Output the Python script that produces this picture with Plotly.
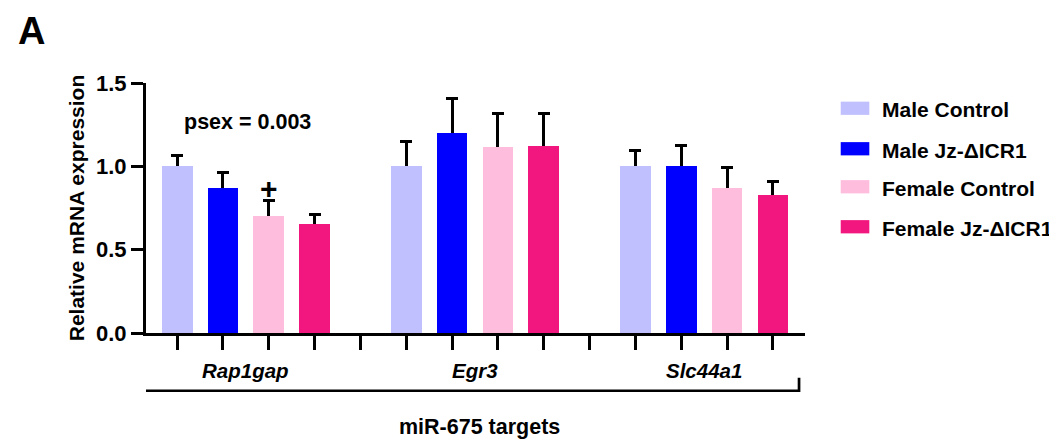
import plotly.graph_objects as go

# ---- data ----
categories = ["Rap1gap", "Egr3", "Slc44a1"]
series_names = ["Male Control", "Male Jz-ΔICR1", "Female Control", "Female Jz-ΔICR1"]
series_colors = ["#C0C0FF", "#0000FF", "#FFBDDE", "#F2177F"]
male_control = [1.00, 1.00, 1.00]
male_control_err = [0.065, 0.15, 0.093]
male_jz = [0.87, 1.20, 1.00]
male_jz_err = [0.095, 0.21, 0.123]
female_control = [0.705, 1.115, 0.87]
female_control_err = [0.093, 0.20, 0.123]
female_jz = [0.655, 1.12, 0.83]
female_jz_err = [0.055, 0.20, 0.08]
values = [male_control, male_jz, female_control, female_jz]
errors = [male_control_err, male_jz_err, female_control_err, female_jz_err]
y_ticks = [0.0, 0.5, 1.0, 1.5]
y_tick_labels = ["0.0", "0.5", "1.0", "1.5"]
group_title = "miR-675 targets"
y_title = "Relative mRNA expression"
p_text = "psex = 0.003"
p_value_y = 1.265
plus_y = 0.87

FONT = "Arial"
slots = len(series_names) + 1  # 4 bars + 1 gap per group
n_slots = len(categories) * slots - 1

fig = go.Figure()
# error-bar carriers (drawn first, their lower end hidden under the bars)
for i, name in enumerate(series_names):
    xs = [g * slots + i for g in range(len(categories))]
    fig.add_trace(go.Bar(
        x=xs, y=values[i], width=0.67, hoverinfo="skip",
        marker=dict(color="rgba(0,0,0,0)", line=dict(width=0)),
        error_y=dict(type="data", array=errors[i], symmetric=False,
                     arrayminus=[0.04] * len(categories),
                     color="black", thickness=3, width=6),
        showlegend=False,
    ))
# visible bars
for i, name in enumerate(series_names):
    xs = [g * slots + i for g in range(len(categories))]
    fig.add_trace(go.Bar(
        x=xs, y=values[i], name=name, width=0.67,
        marker=dict(color=series_colors[i], line=dict(width=0)),
        showlegend=False,
    ))

annotations = []
for g, cat in enumerate(categories):
    annotations.append(dict(
        x=g * slots + 1.5, xref="x", y=-0.148, yref="paper",
        text=f"<b><i>{cat}</i></b>", showarrow=False,
        font=dict(family=FONT, size=20.5, color="black"),
        xanchor="center", yanchor="middle"))
annotations.append(dict(
    x=6.6, xref="x", y=-0.376, yref="paper", text=f"<b>{group_title}</b>",
    showarrow=False, font=dict(family=FONT, size=21.5, color="black"),
    xanchor="center", yanchor="middle"))
annotations.append(dict(
    x=1.53, xref="x", y=p_value_y, yref="y", text=f"<b>{p_text}</b>",
    showarrow=False, font=dict(family=FONT, size=21.5, color="black"),
    xanchor="center", yanchor="middle"))
annotations.append(dict(
    x=2, xref="x", y=plus_y, yref="y", text="<b>+</b>",
    showarrow=False, font=dict(family=FONT, size=30, color="black"),
    xanchor="center", yanchor="middle"))
annotations.append(dict(
    x=-0.1734, xref="paper", y=1.296, yref="paper", text="<b>A</b>",
    showarrow=False, font=dict(family=FONT, size=38, color="black"),
    borderpad=0, xanchor="center", yanchor="top"))

shapes = []
shapes.append(dict(
    type="path", xref="x", yref="paper",
    path="M -0.736,-0.179 L -0.736,-0.231 L 13.57,-0.231 L 13.57,-0.179",
    line=dict(color="black", width=2.7)))

legend_rows = [0.899, 0.737, 0.585, 0.425]
for i, name in enumerate(series_names):
    yc = legend_rows[i]
    shapes.append(dict(type="rect", xref="paper", yref="paper",
                       x0=1.0542, x1=1.0976, y0=yc - 0.0265, y1=yc + 0.0265,
                       fillcolor=series_colors[i], line=dict(width=0)))
    annotations.append(dict(
        x=1.1138, xref="paper", y=yc - 0.006, yref="paper", text=f"<b>{name}</b>",
        showarrow=False, font=dict(family=FONT, size=21, color="black"),
        xanchor="left", yanchor="middle"))

# page body has an 8px margin; compensate so the plot lands where the reference has it
fig.update_layout(
    width=1057, height=442,
    margin=dict(l=138, r=260, t=75, b=117),
    paper_bgcolor="white", plot_bgcolor="white",
    bargap=0, barmode="overlay",
    font=dict(family=FONT, color="black"),
    annotations=annotations, shapes=shapes,
    showlegend=False,
)
fig.update_xaxes(
    range=[-0.68, 13.7], tickvals=list(range(n_slots)),
    ticktext=[""] * n_slots, ticks="outside", ticklen=14, tickwidth=3,
    tickcolor="black", showline=True, linecolor="black", linewidth=3,
    showgrid=False, zeroline=False, fixedrange=True,
)
fig.update_yaxes(
    range=[0, 1.5], tickvals=y_ticks, ticktext=[f"<b>{t}</b>" for t in y_tick_labels],
    ticks="outside", ticklen=12, tickwidth=3, tickcolor="black",
    tickfont=dict(family=FONT, size=22, color="black"),
    showline=True, linecolor="black", linewidth=3,
    showgrid=False, zeroline=False,
    title=dict(text=f"<b>{y_title}</b>", font=dict(family=FONT, size=21, color="black"),
               standoff=6),
)

fig.write_html("out.html")
